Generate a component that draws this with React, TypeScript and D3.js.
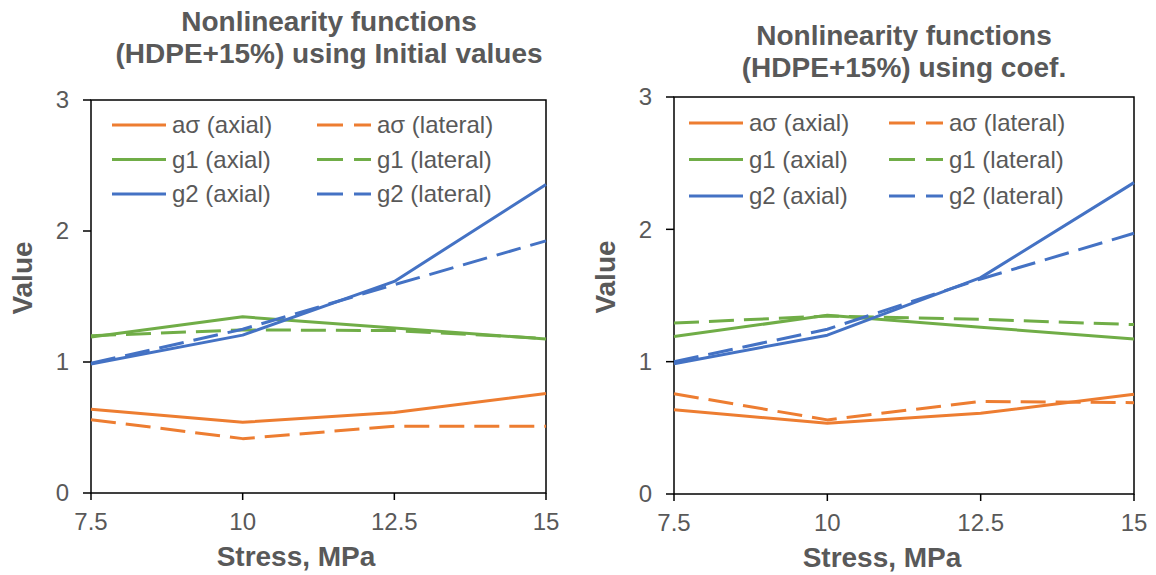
import React from "react";
import * as d3 from "d3";

const stress = [7.5, 10, 12.5, 15];
const xTicks = [7.5, 10, 12.5, 15];
const yTicks = [0, 1, 2, 3];

// Left chart: using Initial values
const initAsAxial = [0.64, 0.54, 0.615, 0.76];
const initAsLateral = [0.56, 0.415, 0.51, 0.51];
const initG1Axial = [1.19, 1.345, 1.26, 1.175];
const initG1Lateral = [1.2, 1.245, 1.24, 1.18];
const initG2Axial = [0.985, 1.205, 1.615, 2.355];
const initG2Lateral = [0.99, 1.25, 1.59, 1.925];

// Right chart: using coef.
const coefAsAxial = [0.636, 0.535, 0.61, 0.753];
const coefAsLateral = [0.758, 0.56, 0.7, 0.69];
const coefG1Axial = [1.19, 1.35, 1.26, 1.172];
const coefG1Lateral = [1.292, 1.345, 1.32, 1.28];
const coefG2Axial = [0.985, 1.2, 1.635, 2.353];
const coefG2Lateral = [1.0, 1.245, 1.625, 1.97];

const seriesNames = ["aσ (axial)", "aσ (lateral)", "g1 (axial)", "g1 (lateral)", "g2 (axial)", "g2 (lateral)"];
const seriesColors = ["#ED7D31", "#ED7D31", "#70AD47", "#70AD47", "#4472C4", "#4472C4"];
const seriesDashed = [false, true, false, true, false, true];

const FONT = "'Liberation Sans', Arial, sans-serif";
const GREY = "#595959";
const DASH = "25 10";

type PanelProps = {
  titleLines: string[];
  titleX: number;
  titleY: number;
  left: number;
  right: number;
  top: number;
  bottom: number;
  series: number[][];
  legendX1: number;
  legendX2: number;
  legendY: number;
  legendRowH: number;
  valueX: number;
  valueY: number;
  stressX: number;
};

function Panel(p: PanelProps) {
  const x = d3.scaleLinear().domain([7.5, 15]).range([p.left, p.right]);
  const y = d3.scaleLinear().domain([0, 3]).range([p.bottom, p.top]);
  const line = d3
    .line<number>()
    .x((_, i) => x(stress[i]))
    .y((d) => y(d));
  return (
    <g>
      {p.titleLines.map((t, i) => (
        <text
          key={i}
          x={p.titleX}
          y={p.titleY + i * 32}
          textAnchor="middle"
          fontFamily={FONT}
          fontWeight="bold"
          fontSize={28}
          fill={GREY}
        >
          {t}
        </text>
      ))}
      <rect
        x={p.left}
        y={p.top}
        width={p.right - p.left}
        height={p.bottom - p.top}
        fill="none"
        stroke="#000"
        strokeWidth={1.5}
      />
      {yTicks.map((t) => (
        <g key={"y" + t}>
          <line x1={p.left - 8} x2={p.left} y1={y(t)} y2={y(t)} stroke="#000" strokeWidth={1.5} />
          <text
            x={p.left - 22}
            y={y(t)}
            dy="0.35em"
            textAnchor="end"
            fontFamily={FONT}
            fontSize={24}
            fill={GREY}
          >
            {t}
          </text>
        </g>
      ))}
      {xTicks.map((t) => (
        <g key={"x" + t}>
          <line x1={x(t)} x2={x(t)} y1={p.bottom} y2={p.bottom + 7} stroke="#000" strokeWidth={1.5} />
          <text
            x={x(t)}
            y={p.bottom + 37}
            textAnchor="middle"
            fontFamily={FONT}
            fontSize={24}
            fill={GREY}
          >
            {t}
          </text>
        </g>
      ))}
      <text
        x={p.stressX}
        y={p.bottom + 73}
        textAnchor="middle"
        fontFamily={FONT}
        fontWeight="bold"
        fontSize={28}
        fill={GREY}
      >
        Stress, MPa
      </text>
      <text
        transform={`translate(${p.valueX},${p.valueY}) rotate(-90)`}
        dy="0.35em"
        textAnchor="middle"
        fontFamily={FONT}
        fontWeight="bold"
        fontSize={28}
        fill={GREY}
      >
        Value
      </text>
      {seriesNames.map((name, i) => {
        const col = i % 2;
        const row = Math.floor(i / 2);
        const lx = col === 0 ? p.legendX1 : p.legendX2;
        const ly = p.legendY + row * p.legendRowH;
        return (
          <g key={"lg" + i}>
            <line
              x1={lx}
              x2={lx + 54}
              y1={ly}
              y2={ly}
              stroke={seriesColors[i]}
              strokeWidth={3}
              strokeDasharray={seriesDashed[i] ? "26 11" : undefined}
            />
            <text x={lx + 60} y={ly} dy="0.35em" fontFamily={FONT} fontSize={24} fill={GREY}>
              {name}
            </text>
          </g>
        );
      })}
      {p.series.map((s, i) => (
        <path
          key={"s" + i}
          d={line(s) || ""}
          fill="none"
          stroke={seriesColors[i]}
          strokeWidth={3}
          strokeLinejoin="round"
          strokeDasharray={seriesDashed[i] ? DASH : undefined}
        />
      ))}
    </g>
  );
}

export default function App() {
  return (
    <svg
      width={1156}
      height={575}
      style={{ position: "absolute", left: 0, top: 0, background: "#fff" }}
    >
      <rect width={1156} height={575} fill="#fff" />
      <Panel
        titleLines={["Nonlinearity functions", "(HDPE+15%) using Initial values"]}
        titleX={329}
        titleY={31}
        left={91}
        right={546}
        top={100}
        bottom={493}
        series={[initAsAxial, initAsLateral, initG1Axial, initG1Lateral, initG2Axial, initG2Lateral]}
        legendX1={112}
        legendX2={317}
        legendY={125}
        legendRowH={34.5}
        valueX={22}
        valueY={278}
        stressX={296}
      />
      <Panel
        titleLines={["Nonlinearity functions", "(HDPE+15%) using coef."]}
        titleX={904}
        titleY={45}
        left={674}
        right={1134}
        top={97}
        bottom={494}
        series={[coefAsAxial, coefAsLateral, coefG1Axial, coefG1Lateral, coefG2Axial, coefG2Lateral]}
        legendX1={689}
        legendX2={889}
        legendY={123}
        legendRowH={36.5}
        valueX={605}
        valueY={277}
        stressX={882}
      />
    </svg>
  );
}
